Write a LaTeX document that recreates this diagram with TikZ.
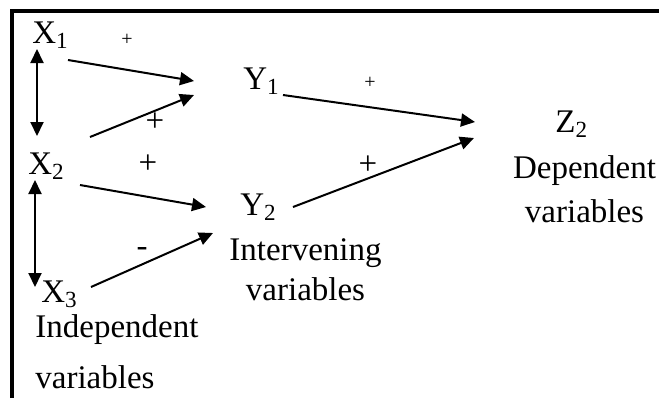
\documentclass[tikz,border=0pt]{standalone}
\usepackage{fontspec}
\setmainfont{Liberation Serif}
\usetikzlibrary{arrows.meta}
\tikzset{
  var/.style={inner sep=0pt,anchor=base west,font=\fontsize{16.5}{20}\selectfont},
  note/.style={inner sep=0pt,font=\fontsize{16.5}{20}\selectfont},
  sign/.style={inner sep=0pt,font=\fontsize{16.5}{20}\selectfont},
  smallsign/.style={inner sep=0pt,font=\fontsize{10}{12}\selectfont},
  link/.style={draw=black,line width=1pt,-{Triangle[length=7pt,width=6.5pt]}},
  both/.style={draw=black,line width=1pt,{Triangle[length=7pt,width=6.5pt]}-{Triangle[length=7pt,width=6.5pt]}},
}

\begin{document}
\begin{tikzpicture}[x=0.5pt,y=-0.5pt]
\useasboundingbox (0,0) rectangle (659,398);
\draw[line width=1.6pt] (12,398) -- (12,11) -- (659,11);
% variables
\node[var] (x1) at (32,43) {X\textsubscript{1}};
\node[var] (x2) at (28,174) {X\textsubscript{2}};
\node[var] (x3) at (41,302) {X\textsubscript{3}};
\node[var] (y1) at (243,89) {Y\textsubscript{1}};
\node[var] (y2) at (240,215) {Y\textsubscript{2}};
\node[var] (z2) at (555,132) {Z\textsubscript{2}};
\node[note,anchor=north west,align=left] (indep) at (35,314.5) {Independent\\[5.5pt]variables};
\node[note,anchor=north,align=center] (interv) at (305.5,238) {Intervening\\variables};
\node[note,anchor=north,align=center] (depend) at (584.5,155.5) {Dependent\\[2pt]variables};
% arrow ends
\coordinate (p1) at (37,49);
\coordinate (p2) at (37,136);
\coordinate (p3) at (35,180);
\coordinate (p4) at (35,287);
\coordinate (a1) at (68,60);
\coordinate (b1) at (194,81);
\coordinate (a2) at (90,137);
\coordinate (b2) at (194,95);
\coordinate (a3) at (80,185);
\coordinate (b3) at (206,207);
\coordinate (a4) at (91,287);
\coordinate (b4) at (213,233);
\coordinate (a5) at (283,95);
\coordinate (b5) at (475,122);
\coordinate (a6) at (293,207);
\coordinate (b6) at (474,138);
\draw[both] (p1) -- (p2);
\draw[both] (p3) -- (p4);
\draw[link] (a1) -- (b1);
\draw[link] (a2) -- (b2);
\draw[link] (a3) -- (b3);
\draw[link] (a4) -- (b4);
\draw[link] (a5) -- (b5);
\draw[link] (a6) -- (b6);
% signs
\node[smallsign] (s1) at (127,40) {+};
\node[sign] (s2) at (155,122) {+};
\node[sign] (s3) at (148,164) {+};
\node[sign] (s4) at (142,252) {-};
\node[smallsign] (s5) at (370,83) {+};
\node[sign] (s6) at (368,165) {+};
\end{tikzpicture}
\end{document}
